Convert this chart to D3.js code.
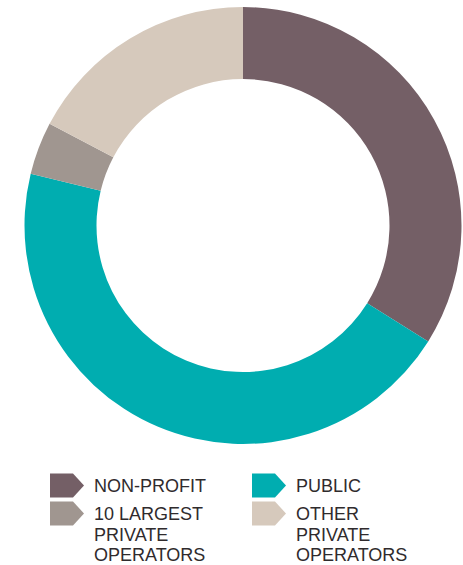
<!DOCTYPE html>
<html><head><meta charset="utf-8">
<script src="https://cdn.jsdelivr.net/npm/d3@7"></script>
<style>html,body{margin:0;padding:0;background:#fff;}svg{display:block;}</style>
</head><body>
<svg id="chart" width="463" height="565"></svg>
<script>
const categories = ["NON-PROFIT", "PUBLIC", "10 LARGEST PRIVATE OPERATORS", "OTHER PRIVATE OPERATORS"];
const values = [33.9, 44.9, 3.9, 17.3];
const colors = ["#745f66", "#00adb0", "#a09690", "#d6c9bc"];
const legendLines = [["NON-PROFIT"], ["PUBLIC"], ["10 LARGEST", "PRIVATE", "OPERATORS"], ["OTHER", "PRIVATE", "OPERATORS"]];

const svg = d3.select("#chart");
const cx = 243, cy = 225.5, outerR = 218.5, innerR = 146.5;

const pie = d3.pie().sort(null).value(d => d)(values);
const arc = d3.arc().innerRadius(innerR).outerRadius(outerR);

svg.append("g").attr("transform", `translate(${cx},${cy})`)
  .selectAll("path").data(pie).join("path")
  .attr("d", arc).attr("fill", (d, i) => colors[i]);

// Legend
const col = d3.scaleOrdinal().domain([0, 1]).range([50, 252]);
const row = d3.scaleOrdinal().domain([0, 1]).range([473.5, 501.5]);
const lg = svg.append("g");
categories.forEach((c, i) => {
  const x = col(i % 2), y = row(Math.floor(i / 2));
  const w = 34, h = 24, p = 11;
  lg.append("path")
    .attr("d", `M${x},${y}H${x + w - p}L${x + w},${y + h / 2}L${x + w - p},${y + h}H${x}Z`)
    .attr("fill", colors[i]);
  const t = lg.append("text")
    .attr("x", x + 44).attr("y", y + 18.5)
    .attr("font-family", "Liberation Sans, Arial, sans-serif")
    .attr("font-size", 18).attr("fill", "#2f2b2d");
  legendLines[i].forEach((ln, j) => {
    t.append("tspan").attr("x", x + 44).attr("dy", j === 0 ? 0 : 20.5).text(ln);
  });
});
</script>
</body></html>
